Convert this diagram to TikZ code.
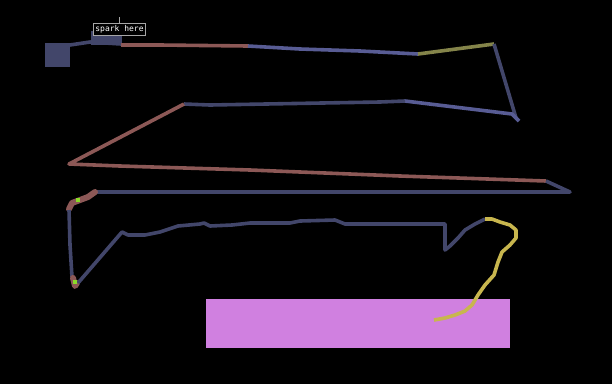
\documentclass[tikz,border=0pt]{standalone}
\usepackage{fontspec}
\setmonofont{DejaVu Sans Mono}
\usepackage{tikz}
\usetikzlibrary{positioning,calc}

\definecolor{trackdark}{HTML}{42466A}
\definecolor{trackblue}{HTML}{585C94}
\definecolor{trackred}{HTML}{8C5856}
\definecolor{trackolive}{HTML}{84844A}
\definecolor{trackyellow}{HTML}{C8B64E}
\definecolor{markgreen}{HTML}{8CDC28}
\definecolor{zonepink}{HTML}{D080E0}

\begin{document}
\begin{tikzpicture}[
  x=1pt, y=-1pt,
  trk/.style={line width=3.6pt, line join=round},
  blob/.style={line width=6pt, line join=round, line cap=round},
  dot/.style={fill=markgreen, draw=none, minimum size=4pt, inner sep=0pt},
  tag/.style={draw=gray!70, fill=black, text=white, line width=0.8pt,
    inner sep=2.2pt, font=\ttfamily\fontsize{8}{9}\selectfont}
]
% background and bounds
\fill[black] (0,0) rectangle (612,384);
\useasboundingbox (0,0) rectangle (612,384);

% target zone and start pad
\fill[zonepink] (206,299) rectangle (510,348);
\fill[trackdark] (45,43) rectangle (70,67);
\fill[trackdark] (91,31) rectangle (122,45);

% first run, left to right
\draw[trk, trackdark] (70,45) -- (90,42) -- (121,44);
\draw[trk, trackred] (121,45) -- (160,45) -- (248,46);
\draw[trk, trackblue] (248,46) -- (300,49) -- (360,51) -- (418,54);
\draw[trk, trackolive] (418,54) -- (494,44);
\draw[trk, trackdark] (494,44) -- (516,118);
\draw[trk, trackblue] (519,121) -- (512,114) -- (405,101);
\draw[trk, trackdark] (405,101) -- (380,102) -- (322,103) -- (266,104)
  -- (210,105) -- (184,104);

% back across
\draw[trk, trackred] (184,104) -- (69,164) -- (120,166) -- (250,170)
  -- (400,176) -- (546,181);
\draw[trk, trackdark] (546,181) -- (570,192) -- (330,192) -- (97,192);
\draw[blob, trackred] (95,192) -- (88,197) -- (80,200) -- (72,203) -- (69,209);
\draw[trk, trackdark] (69,210) -- (70,245) -- (72,277);
\draw[blob, trackred] (73,278) -- (75,286) -- (77,283);
\draw[trk, trackdark] (78,283) -- (122,232) -- (128,235) -- (145,235)
  -- (160,232) -- (178,226) -- (200,224) -- (204,223) -- (210,226)
  -- (232,225) -- (250,223) -- (290,223) -- (300,221) -- (335,220)
  -- (345,224) -- (445,224) -- (445,250) -- (450,246) -- (458,238)
  -- (465,230) -- (475,224) -- (485,219);

% last leg into the zone
\draw[trk, trackyellow] (485,219) -- (492,219) -- (500,222) -- (510,225)
  -- (516,230) -- (516,238) -- (510,245) -- (502,252) -- (498,262)
  -- (494,275) -- (485,285) -- (478,295) -- (472,305) -- (465,311)
  -- (455,315) -- (445,318) -- (434,320);

% markers
\node[dot] (markA) at (78,200) {};
\node[dot] (markB) at (75,282) {};

% label
\node[tag] (spark) at (119.5,29.5) {spark here};
\coordinate (sparktip) at (119.5,17);
\draw[gray!70, line width=0.8pt] (spark.north) -- (sparktip);
\end{tikzpicture}
\end{document}
